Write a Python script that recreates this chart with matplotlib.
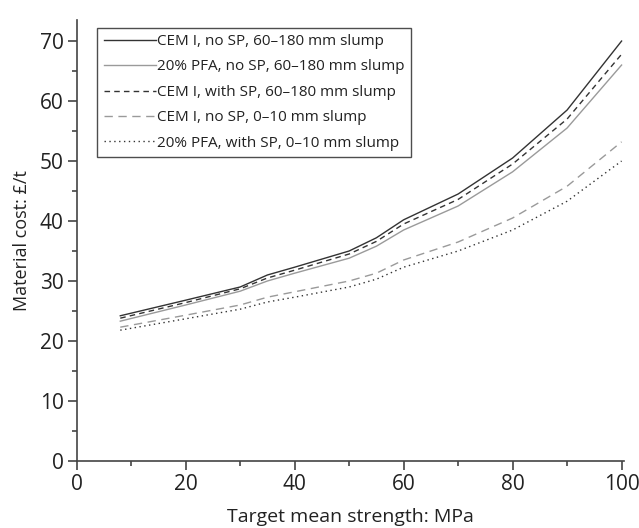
import matplotlib.pyplot as plt
import numpy as np

# Target mean strength (MPa)
strength = [8, 20, 30, 35, 40, 50, 55, 60, 70, 80, 90, 100]

cem_no_sp_60_180 = [24.2, 26.8, 29.0, 31.0, 32.3, 35.0, 37.2, 40.2, 44.5, 50.5, 58.5, 70.0]
pfa_no_sp_60_180 = [23.3, 26.0, 28.3, 30.0, 31.3, 33.8, 35.8, 38.5, 42.5, 48.2, 55.5, 66.0]
cem_sp_60_180 = [23.8, 26.4, 28.7, 30.5, 31.8, 34.5, 36.6, 39.5, 43.6, 49.5, 57.0, 67.8]
cem_no_sp_0_10 = [22.3, 24.3, 26.0, 27.3, 28.2, 30.0, 31.3, 33.5, 36.5, 40.5, 45.8, 53.2]
pfa_sp_0_10 = [21.8, 23.7, 25.3, 26.5, 27.3, 29.0, 30.3, 32.3, 35.0, 38.5, 43.3, 50.0]

labels = [
    "CEM I, no SP, 60\u2013180 mm slump",
    "20% PFA, no SP, 60\u2013180 mm slump",
    "CEM I, with SP, 60\u2013180 mm slump",
    "CEM I, no SP, 0\u201310 mm slump",
    "20% PFA, with SP, 0\u201310 mm slump",
]


def main():
    plt.rcParams["font.family"] = ["Open Sans", "DejaVu Sans"]
    plt.rcParams["font.size"] = 12

    fig = plt.figure(figsize=(6.39, 5.28), dpi=100)
    ax = fig.add_axes([0.12, 0.127, 0.857, 0.835])

    dark = "#333333"
    grey = "#9a9a9a"
    ax.plot(strength, cem_no_sp_60_180, color=dark, lw=1.0, label=labels[0])
    ax.plot(strength, pfa_no_sp_60_180, color=grey, lw=1.0, label=labels[1])
    ax.plot(strength, cem_sp_60_180, color=dark, lw=1.0, ls=(0, (4, 3)), label=labels[2])
    ax.plot(strength, cem_no_sp_0_10, color=grey, lw=1.0, ls=(0, (6, 4)), label=labels[3])
    ax.plot(strength, pfa_sp_0_10, color=dark, lw=1.0, ls=(0, (1, 2.5)), label=labels[4])

    ax.set_xlim(0, 100.5)
    ax.set_ylim(0, 73.5)
    ax.set_xticks(np.arange(0, 101, 20))
    ax.set_xticks(np.arange(10, 100, 20), minor=True)
    ax.set_yticks(np.arange(0, 71, 10))
    ax.set_yticks(np.arange(5, 71, 10), minor=True)
    for side in ("top", "right"):
        ax.spines[side].set_visible(False)
    for side in ("left", "bottom"):
        ax.spines[side].set_color("#444444")
        ax.spines[side].set_linewidth(1.2)
    ax.tick_params(which="major", direction="out", length=6.5, width=1.2, colors="#444444",
                   labelcolor="#222222", labelsize=15, pad=3)
    ax.tick_params(which="minor", direction="out", length=3.5, width=1.2, colors="#444444")

    ax.set_xlabel("Target mean strength: MPa", fontsize=14, color="#222222", labelpad=9)
    ax.set_ylabel("Material cost: \u00a3/t", fontsize=13, color="#222222", labelpad=6)

    leg = ax.legend(loc="upper left", bbox_to_anchor=(0.038, 0.982), frameon=True, fancybox=False,
                    fontsize=11, handlelength=3.4, handletextpad=0.12, labelspacing=0.68,
                    borderpad=0.4, borderaxespad=0)
    leg.get_frame().set_edgecolor("#222222")
    leg.get_frame().set_linewidth(1.0)
    for t in leg.get_texts():
        t.set_color("#222222")

    fig.savefig("out.png", dpi=100)


if __name__ == "__main__":
    main()
